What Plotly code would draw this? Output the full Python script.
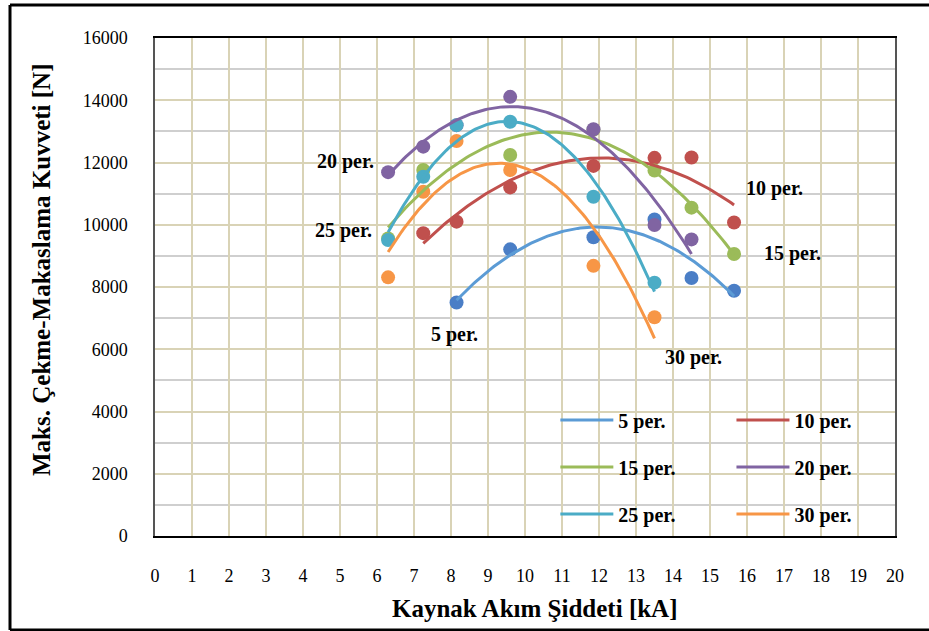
import numpy as np
import plotly.graph_objects as go

# ---- data ----
names = ["5 per.", "10 per.", "15 per.", "20 per.", "25 per.", "30 per."]
x_5 = [8.15, 9.6, 11.85, 13.5, 14.5, 15.65]
y_5 = [7500, 9210, 9600, 10170, 8290, 7880]
x_10 = [7.25, 8.15, 9.6, 11.85, 13.5, 14.5, 15.65]
y_10 = [9730, 10100, 11200, 11890, 12150, 12160, 10070]
x_15 = [6.3, 7.25, 9.6, 11.85, 13.5, 14.5, 15.65]
y_15 = [9560, 11760, 12240, 13050, 11740, 10550, 9060]
x_20 = [6.3, 7.25, 8.15, 9.6, 11.85, 13.5, 14.5]
y_20 = [11690, 12510, 13200, 14110, 13070, 9990, 9530]
x_25 = [6.3, 7.25, 8.15, 9.6, 11.85, 13.5]
y_25 = [9510, 11540, 13200, 13310, 10900, 8140]
x_30 = [6.3, 7.25, 8.15, 9.6, 11.85, 13.5]
y_30 = [8310, 11060, 12690, 11760, 8680, 7030]

xs = [x_5, x_10, x_15, x_20, x_25, x_30]
ys = [y_5, y_10, y_15, y_20, y_25, y_30]

x_ticks = list(range(0, 21))
y_ticks = list(range(0, 16001, 2000))

marker_colors = ["#4A7EC6", "#C0504D", "#9BBB59", "#8064A2", "#4BACC6", "#F79646"]
line_colors = ["#5B9BD5", "#C0504D", "#9BBB59", "#8064A2", "#4BACC6", "#F79646"]

SERIF = "Liberation Serif"

fig = go.Figure()

for i, (nm, xv, yv) in enumerate(zip(names, xs, ys)):
    fig.add_trace(go.Scatter(
        x=xv, y=yv, mode="markers",
        marker=dict(size=14, color=marker_colors[i]),
        showlegend=False, hoverinfo="x+y", name=nm))

for i, (nm, xv, yv) in enumerate(zip(names, xs, ys)):
    # second-order polynomial trendline (as in the source chart)
    c = np.polyfit(xv, yv, 2)
    xf = np.linspace(min(xv), max(xv), 120)
    yf = np.polyval(c, xf)
    fig.add_trace(go.Scatter(
        x=xf, y=yf, mode="lines",
        line=dict(color=line_colors[i], width=3),
        name=nm, legendgroup=nm,
        legend="legend" if i % 2 == 0 else "legend2"))

legend_common = dict(
    bgcolor="rgba(0,0,0,0)", borderwidth=0,
    font=dict(family=SERIF, size=20, color="black", weight="bold"),
    traceorder="grouped", tracegroupgap=18, itemwidth=53,
    yanchor="top", xanchor="left")

fig.update_layout(
    width=929, height=631,
    margin=dict(l=155, r=34, t=38, b=95),
    paper_bgcolor="white", plot_bgcolor="white",
    font=dict(family=SERIF, color="black"),
    legend=dict(x=0.541, y=0.272, **legend_common),
    legend2=dict(x=0.779, y=0.272, **legend_common),
    xaxis=dict(
        range=[0, 20], tickmode="array", tickvals=x_ticks,
        ticktext=[str(t) for t in x_ticks],
        showgrid=True, gridcolor="#D9D3B6", gridwidth=1.5,
        zeroline=False, showline=True, linecolor="black", linewidth=1.5, mirror=True,
        ticks="outside", ticklen=23, tickcolor="rgba(0,0,0,0)",
        tickfont=dict(family=SERIF, size=18, color="black")),
    yaxis=dict(
        range=[0, 16000], tickmode="array", tickvals=y_ticks,
        ticktext=[str(t) for t in y_ticks],
        showgrid=True, gridcolor="#D9D3B6", gridwidth=1.5,
        minor=dict(dtick=1000, showgrid=True, gridcolor="#CFCFCF", gridwidth=1.5),
        zeroline=False, showline=True, linecolor="#555555", linewidth=1.5, mirror=True,
        ticks="outside", ticklen=22, tickcolor="rgba(0,0,0,0)",
        tickfont=dict(family=SERIF, size=18, color="black")),
)

# axis titles
fig.add_annotation(text="Kaynak Akım Şiddeti [kA]", xref="paper", yref="paper",
                   x=(535 - 155) / 740, y=(536 - 608) / 498, showarrow=False,
                   xanchor="center", yanchor="middle",
                   font=dict(family=SERIF, size=25, color="black", weight="bold"))
fig.add_annotation(text="Maks. Çekme-Makaslama Kuvveti [N]", xref="paper", yref="paper",
                   x=(41 - 155) / 740, y=(536 - 270) / 498, showarrow=False, textangle=-90,
                   xanchor="center", yanchor="middle",
                   font=dict(family=SERIF, size=25, color="black", weight="bold"))

# series labels inside the plot
labels = [("20 per.", 5.15, 12030), ("25 per.", 5.10, 9810), ("5 per.", 8.09, 6460),
          ("10 per.", 16.74, 11180), ("15 per.", 17.23, 9090), ("30 per.", 14.56, 5730)]
for t, lx, ly in labels:
    fig.add_annotation(text=t, x=lx, y=ly, showarrow=False,
                       font=dict(family=SERIF, size=20, color="black", weight="bold"))

# outer frame
def px(xp):
    return (xp - 155) / 740
def py(yp):
    return (536 - yp) / 498
frame = dict(color="black", width=3)
fig.add_shape(type="line", xref="paper", yref="paper", x0=px(10), x1=px(935), y0=py(5), y1=py(5), line=frame)
fig.add_shape(type="line", xref="paper", yref="paper", x0=px(10), x1=px(10), y0=py(5), y1=py(630), line=frame)
fig.add_shape(type="line", xref="paper", yref="paper", x0=px(10), x1=px(935), y0=py(630), y1=py(630), line=frame)

fig.write_html("out.html", config={"displayModeBar": False},
               post_script="document.body.style.margin='0';document.body.style.padding='0';")
